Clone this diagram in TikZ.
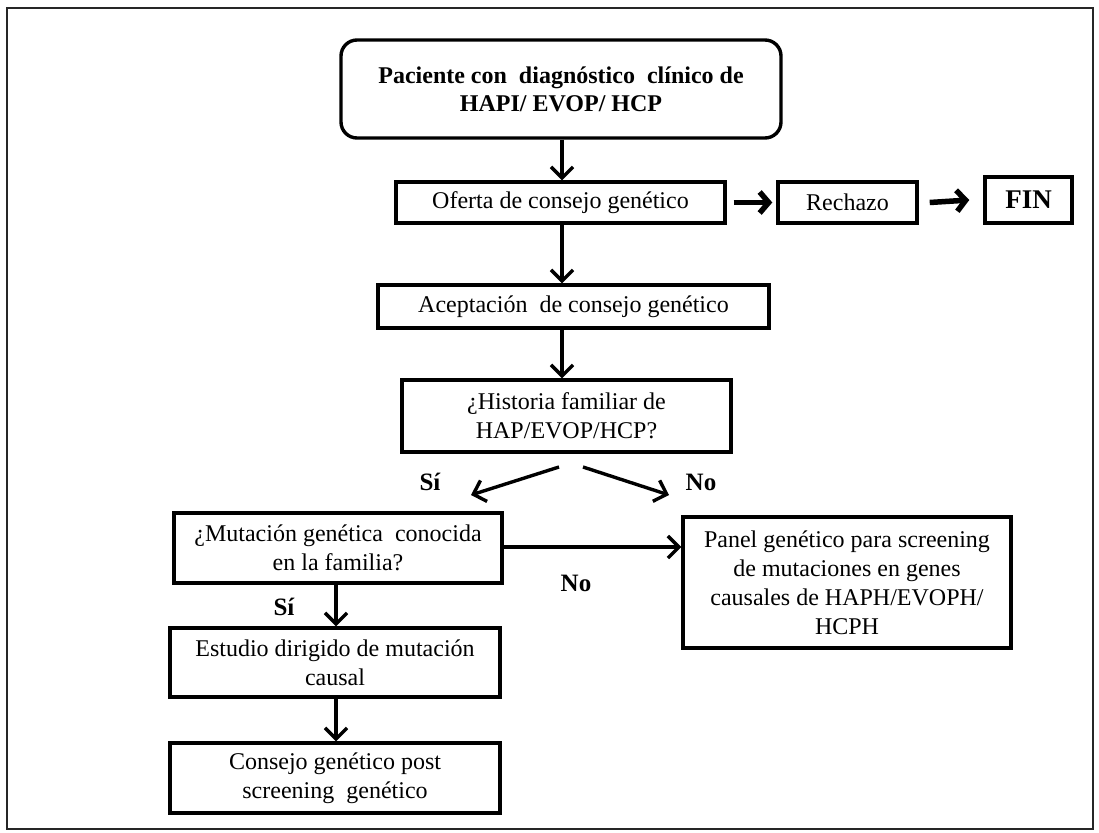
\documentclass[tikz,border=0pt]{standalone}
\usepackage{fontspec}
\setmainfont{Liberation Serif}
\usetikzlibrary{arrows.meta,calc}
\begin{document}
\begin{tikzpicture}[x=1pt,y=-1pt,
  box/.style={draw,line width=3.4pt,inner sep=0pt,align=center,font=\fontsize{24}{29}\selectfont},
  arr/.style={line width=3.4pt,-{Straight Barb[length=11pt,width=22pt]}},
  thickarr/.style={line width=5.5pt,-{Straight Barb[length=9pt,width=21pt]}},
  lbl/.style={font=\fontsize{25}{28}\selectfont\bfseries,inner sep=0pt}]
\useasboundingbox (0,0) rectangle (1099,832);
\draw[line width=1.8pt,black!85] (7,8) rectangle (1093,829);

% boxes
\node[box,rounded corners=16pt,minimum width=440pt,minimum height=98pt,
      font=\fontsize{24}{28}\selectfont\bfseries] (top) at (561,89)
  {Paciente con\ \ diagnóstico\ \ clínico de\\HAPI/ EVOP/ HCP};
\node[box,minimum width=329pt,minimum height=41pt] (ofe) at (560.5,202.5) {Oferta de consejo genético};
\node[box,minimum width=139pt,minimum height=41pt] (rech) at (847.5,202.5) {Rechazo};
\node[box,minimum width=87pt,minimum height=46pt,font=\fontsize{27}{30}\selectfont\bfseries] (fin) at (1028.5,200) {FIN};
\node[box,minimum width=391pt,minimum height=43pt] (acep) at (573.5,306.5) {Aceptación\ \ de consejo genético};
\node[box,minimum width=329pt,minimum height=72pt] (hist) at (566.5,416) {¿Historia familiar de\\HAP/EVOP/HCP?};
\node[box,minimum width=328pt,minimum height=70pt] (mut) at (338,548) {¿Mutación genética\ \ conocida\\en la familia?};
\node[box,minimum width=328pt,minimum height=131pt] (panel) at (847,582.5)
  {Panel genético para screening\\de mutaciones en genes\\causales de HAPH/EVOPH/\\HCPH};
\node[box,minimum width=330pt,minimum height=69pt] (est) at (335,662.5) {Estudio dirigido de mutación\\causal};
\node[box,minimum width=330pt,minimum height=70pt] (cons) at (335,778) {Consejo genético post\\screening\ \ genético};

% free ends of the branch arrows
\coordinate (siA) at (559,467);
\coordinate (siB) at (471,495);
\coordinate (noA) at (583,467);
\coordinate (noB) at (669,495);

% connectors
\draw[arr] (top.south -| 562,0) -- (ofe.north -| 562,0);
\draw[arr] (ofe.south -| 562,0) -- (acep.north -| 562,0);
\draw[arr] (acep.south -| 562,0) -- (hist.north -| 562,0);
\draw[thickarr] ($(ofe.east)+(7,0)$) -- ($(rech.west)+(-4,0)$);
\draw[thickarr] ($(rech.east)+(11,0)$) -- ($(fin.west)+(-14,0)$);
\draw[arr] (siA) -- (siB);
\draw[arr] (noA) -- (noB);
\draw[arr] (mut.east |- 0,547) -- (panel.west |- 0,547);
\draw[arr] (mut.south -| 336,0) -- (est.north -| 336,0);
\draw[arr] (est.south -| 336,0) -- (cons.north -| 336,0);

% branch labels
\node[lbl] (lsi1) at (430,482) {Sí};
\node[lbl] (lno1) at (701,482) {No};
\node[lbl] (lno2) at (576,583) {No};
\node[lbl] (lsi2) at (284,607) {Sí};
\end{tikzpicture}
\end{document}
